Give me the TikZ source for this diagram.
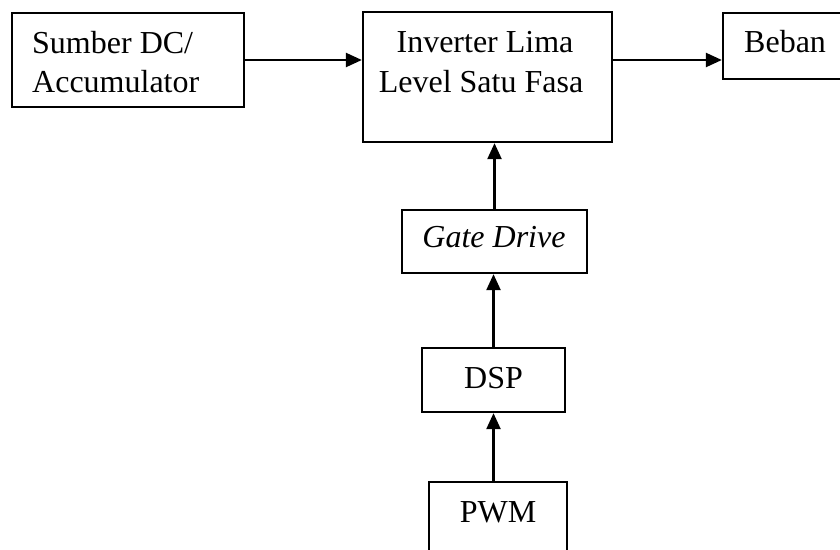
\documentclass[tikz,border=0pt]{standalone}
\usepackage{fontspec}
\setmainfont{Liberation Serif}
\usetikzlibrary{arrows.meta}
\begin{document}
\begin{tikzpicture}[x=1pt,y=-1pt,
  blk/.style={draw,line width=2.3pt,inner sep=0pt},
  lbl/.style={inner sep=0pt,font=\fontsize{32}{39}\selectfont},
  flow/.style={line width=2.3pt,-{Triangle[length=16pt,width=14pt]}}]
\useasboundingbox (0,0) rectangle (840,549);
\fill[white] (0,0) rectangle (840,549);

% blocks
\node[blk,minimum width=232pt,minimum height=94pt]  (src)   at (128,60)    {};
\node[blk,minimum width=249pt,minimum height=130pt] (inv)   at (487.5,77)  {};
\node[blk,minimum width=137pt,minimum height=66pt]  (load)  at (791.5,46)  {};
\node[blk,minimum width=185pt,minimum height=63pt]  (gate)  at (494.5,241.5) {};
\node[blk,minimum width=143pt,minimum height=64pt]  (dsp)   at (493.5,380) {};
\node[blk,minimum width=138pt,minimum height=118pt] (pwm)   at (498,541)   {};

% labels
\node[lbl,anchor=base west] (srcA) at (32,53) {Sumber DC/};
\node[lbl,anchor=base west] (srcB) at (32,92) {Accumulator};
\node[lbl,anchor=base] (invA) at (485,52) {Inverter Lima};
\node[lbl,anchor=base] (invB) at (481,92) {Level Satu Fasa};
\node[lbl,anchor=base west] (loadA) at (744,52) {Beban};
\node[lbl,anchor=base] (gateA) at (494,247) {\itshape Gate Drive};
\node[lbl,anchor=base] (dspA) at (493.5,388) {DSP};
\node[lbl,anchor=base] (pwmA) at (498,522) {PWM};

% connectors
\draw[flow] (src.east) -- (inv.west |- src.east);
\draw[flow] (inv.east |- src.east) -- (load.west |- src.east);
\draw[flow] (gate.north) -- (inv.south -| gate.north);
\draw[flow] (dsp.north) -- (gate.south -| dsp.north);
\draw[flow] (pwm.north -| dsp.south) -- (dsp.south);
\end{tikzpicture}
\end{document}
